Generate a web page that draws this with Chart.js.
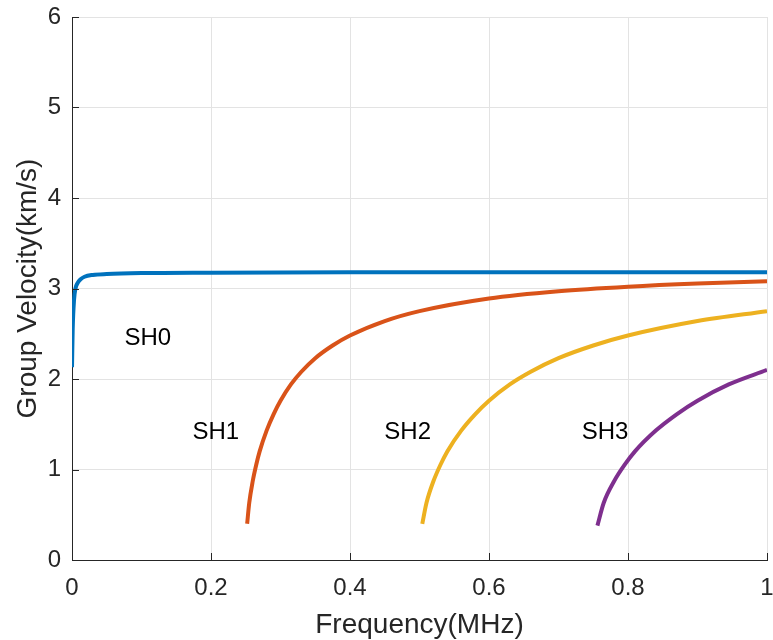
<!DOCTYPE html>
<html>
<head>
<meta charset="utf-8">
<script src="https://cdn.jsdelivr.net/npm/chart.js@4.4.1/dist/chart.umd.min.js"></script>
<style>
  html, body { margin: 0; padding: 0; background: #ffffff; }
  #wrap { width: 773px; height: 640px; }
</style>
</head>
<body>
<div id="wrap"><canvas id="c" width="773" height="640"></canvas></div>
<script>
// ---- data ----
const seriesNames = ['SH0', 'SH1', 'SH2', 'SH3'];

const sh0Freq = [0, 0.001, 0.003, 0.005, 0.008, 0.012, 0.018, 0.03, 0.05, 0.1, 0.2, 0.4, 0.7, 1.0];
const sh0Vel  = [2.13, 2.55, 2.88, 3.0, 3.06, 3.1, 3.13, 3.15, 3.16, 3.17, 3.175, 3.18, 3.18, 3.18];

const sh1Freq = [0.252, 0.255, 0.26, 0.265, 0.27, 0.28, 0.29, 0.3, 0.315, 0.33, 0.35, 0.375, 0.4, 0.45, 0.5, 0.6, 0.7, 0.8, 0.9, 1.0];
const sh1Vel  = [0.40, 0.63, 0.87, 1.05, 1.20, 1.43, 1.61, 1.76, 1.94, 2.08, 2.23, 2.37, 2.48, 2.64, 2.75, 2.89, 2.97, 3.02, 3.055, 3.08];

const sh2Freq = [0.504, 0.51, 0.52, 0.53, 0.54, 0.56, 0.58, 0.6, 0.63, 0.66, 0.7, 0.75, 0.8, 0.9, 1.0];
const sh2Vel  = [0.40, 0.63, 0.87, 1.05, 1.20, 1.43, 1.61, 1.76, 1.94, 2.08, 2.23, 2.37, 2.48, 2.64, 2.75];

const sh3Freq = [0.756, 0.765, 0.78, 0.795, 0.81, 0.84, 0.87, 0.9, 0.945, 1.0];
const sh3Vel  = [0.38, 0.63, 0.87, 1.05, 1.20, 1.43, 1.61, 1.76, 1.94, 2.10];

const xTickLabels = ['0', '0.2', '0.4', '0.6', '0.8', '1'];
const yTickLabels = ['0', '1', '2', '3', '4', '5', '6'];

// label anchor points (data coordinates) for mode names
const labelX = [0.109, 0.207, 0.483, 0.767];
const labelY = [2.45, 1.41, 1.41, 1.41];

const colors = ['#0072BD', '#D95319', '#EDB120', '#7E2F8E'];

function pts(xs, ys) { return xs.map((x, i) => ({ x: x, y: ys[i] })); }
const seriesData = [pts(sh0Freq, sh0Vel), pts(sh1Freq, sh1Vel), pts(sh2Freq, sh2Vel), pts(sh3Freq, sh3Vel)];

const FONT = '"Liberation Sans", Arial, Helvetica, sans-serif';
const TXT = '#262626';

function zeroPad(s) { s.paddingTop = 0; s.paddingBottom = 0; s.paddingLeft = 0; s.paddingRight = 0; }

const overlay = {
  id: 'overlay',
  afterDraw(chart) {
    const ctx = chart.ctx;
    const xs = chart.scales.x, ys = chart.scales.y;
    const a = chart.chartArea;
    ctx.save();
    // inward tick marks
    ctx.strokeStyle = TXT;
    ctx.lineWidth = 1;
    ctx.beginPath();
    xs.ticks.forEach(t => {
      const px = Math.round(xs.getPixelForValue(t.value)) + 0.5;
      ctx.moveTo(px, a.bottom);
      ctx.lineTo(px, a.bottom - 7);
    });
    ys.ticks.forEach(t => {
      const py = Math.round(ys.getPixelForValue(t.value)) + 0.5;
      ctx.moveTo(a.left, py);
      ctx.lineTo(a.left + 7, py);
    });
    ctx.stroke();
    // mode labels
    ctx.fillStyle = '#000000';
    ctx.font = '24px ' + FONT;
    ctx.textAlign = 'center';
    ctx.textBaseline = 'middle';
    seriesNames.forEach((n, i) => {
      ctx.fillText(n, xs.getPixelForValue(labelX[i]), ys.getPixelForValue(labelY[i]));
    });
    ctx.restore();
  }
};

new Chart(document.getElementById('c'), {
  type: 'line',
  data: {
    datasets: seriesNames.map((n, i) => ({
      label: n,
      data: seriesData[i],
      borderColor: colors[i],
      backgroundColor: colors[i],
      borderWidth: 4,
      pointRadius: 0,
      fill: false,
      cubicInterpolationMode: 'monotone',
      order: 3 - i
    }))
  },
  options: {
    responsive: false,
    animation: false,
    layout: { padding: { left: 0, right: 6, top: 17, bottom: 0 } },
    plugins: { legend: { display: false }, tooltip: { enabled: false } },
    scales: {
      x: {
        type: 'linear',
        min: 0, max: 1,
        afterFit(s) { s.height = 80; zeroPad(s); },
        afterBuildTicks(s) { s.ticks = xTickLabels.map(v => ({ value: parseFloat(v) })); },
        ticks: {
          callback: (v, i) => xTickLabels[i],
          font: { family: FONT, size: 24 },
          color: TXT,
          padding: 14,
          maxRotation: 0,
          autoSkip: false
        },
        grid: { color: '#e3e3e3', drawTicks: false, lineWidth: 1 },
        border: { display: true, color: TXT, width: 1 },
        title: {
          display: true,
          text: 'Frequency(MHz)',
          font: { family: FONT, size: 28, lineHeight: 1.0 },
          color: TXT,
          padding: { top: 0, bottom: 1 }
        }
      },
      y: {
        type: 'linear',
        min: 0, max: 6,
        afterFit(s) { s.width = 72; zeroPad(s); },
        afterBuildTicks(s) { s.ticks = yTickLabels.map(v => ({ value: parseFloat(v) })); },
        ticks: {
          callback: (v, i) => yTickLabels[i],
          font: { family: FONT, size: 24 },
          color: TXT,
          padding: 11,
          autoSkip: false
        },
        grid: { color: '#e3e3e3', drawTicks: false, lineWidth: 1 },
        border: { display: true, color: TXT, width: 1 },
        title: {
          display: true,
          text: 'Group Velocity(km/s)',
          font: { family: FONT, size: 28, lineHeight: 1.0 },
          color: TXT,
          padding: { top: 14, bottom: 0 }
        }
      }
    }
  },
  plugins: [overlay]
});
</script>
</body>
</html>
